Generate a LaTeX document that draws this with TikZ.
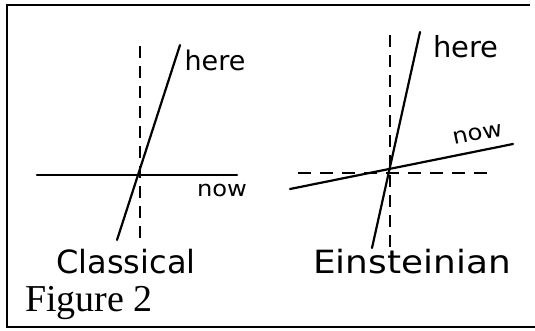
\documentclass[tikz,border=0pt]{standalone}
\usepackage{fontspec}
\setmainfont{Liberation Serif}
\newfontfamily\handfont{DejaVu Sans}
\begin{document}
\begin{tikzpicture}[x=1pt,y=-1pt,
  axis/.style={line width=2.2pt,line cap=round},
  guide/.style={line width=1.8pt,dash pattern=on 12pt off 8pt},
  hguide/.style={line width=1.4pt,dash pattern=on 13pt off 9pt},
  frameline/.style={line width=1.6pt},
  hand/.style={font=\handfont\fontsize{#1}{#1}\selectfont,inner sep=0pt},
  hand/.default=30]
\useasboundingbox (0,0) rectangle (535,330);
% frame
\coordinate (ftr) at (530,5);
\coordinate (ftl) at (7,5);
\coordinate (fbl) at (7,327);
\coordinate (fbr) at (535,327);
\draw[frameline] (ftr) -- (ftl) -- (fbl) -- (fbr);
% Classical
\coordinate (cvt) at (140,46);
\coordinate (cvb) at (140,240);
\coordinate (cht) at (180,45);
\coordinate (chb) at (117,240);
\coordinate (cnl) at (37,175);
\coordinate (cnr) at (237,175);
\draw[guide] (cvt) -- (cvb);
\draw[axis] (cht) -- (chb);
\draw[axis] (cnl) -- (cnr);
\node[hand=27] (chere) at (215,60) {here};
\node[hand=22,xscale=1.1] (cnow) at (222,190) {now};
\node[hand=32] (cclass) at (126,262) {Classical};
% Einsteinian
\coordinate (evt) at (390,35);
\coordinate (evb) at (390,248);
\coordinate (eht) at (420,32);
\coordinate (ehb) at (372,248);
\coordinate (enl) at (290,189);
\coordinate (enr) at (513,144);
\coordinate (edl) at (298,173);
\coordinate (edr) at (493,173);
\draw[guide] (evt) -- (evb);
\draw[hguide] (edl) -- (edr);
\draw[axis] (eht) -- (ehb);
\draw[axis] (enl) -- (enr);
\node[hand=29] (ehere) at (466,47) {here};
\node[hand=22,xscale=1.1,rotate=11] (enow) at (478,134) {now};
\node[hand=32,xscale=1.12] (eein) at (412,262) {Einsteinian};
% caption
\node[font=\fontsize{38}{38}\selectfont,inner sep=0pt] (fig) at (89,303) {Figure 2};
\end{tikzpicture}
\end{document}
